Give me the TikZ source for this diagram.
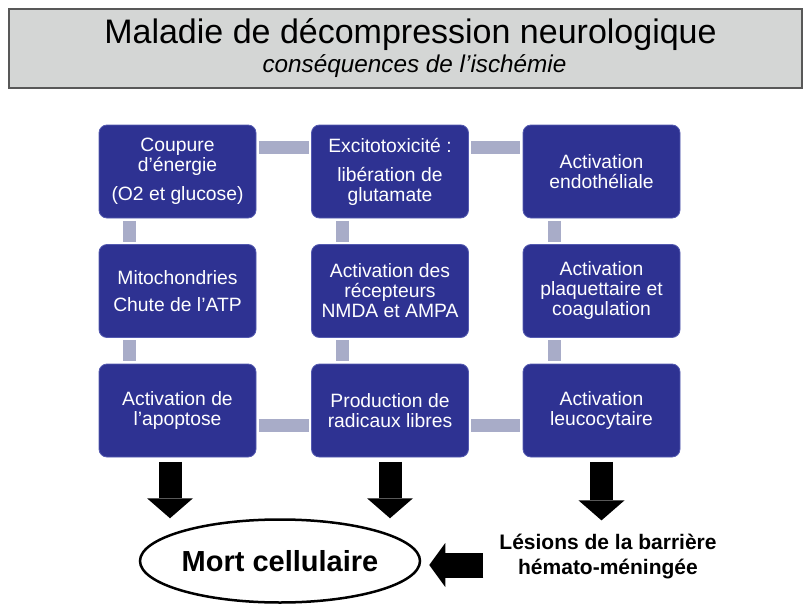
\documentclass[tikz,border=0pt]{standalone}
\usepackage{fontspec}
\setmainfont{Liberation Sans}
\usetikzlibrary{%
  arrows.meta,%
  shapes.geometric,% wg. ellipse
  calc%
}
\definecolor{navy}{RGB}{46,50,146}
\definecolor{navyline}{RGB}{84,90,176}
\definecolor{linkgray}{RGB}{168,172,200}
\definecolor{titlegray}{RGB}{212,214,213}
\definecolor{titleline}{RGB}{88,88,88}

\begin{document}
\begin{tikzpicture}
[x=1pt, y=-1pt,
procbox/.style={rectangle, draw=navyline, line width=0.8pt, fill=navy, rounded corners=8pt,
  text=white, align=center, minimum width=157pt, minimum height=93pt, inner sep=2pt,
  font=\fontsize{19.3}{20}\selectfont},
link/.style={draw=linkgray, line width=13pt, shorten <=2.5pt, shorten >=2.5pt},
bigarrow/.style={draw=black, line width=23pt, shorten <=4.5pt,
  -{Triangle[width=46pt,length=20pt,line width=0pt]}},
sidearrow/.style={draw=black, line width=25pt,
  -{Triangle[width=44pt,length=16pt,line width=0pt]}}
]
\useasboundingbox (0,0) rectangle (804,605);

% title
\node[draw=titleline, line width=1.8pt, fill=titlegray, minimum width=793pt, minimum height=79pt,
  inner sep=0pt, align=center, font=\fontsize{34}{29}\selectfont] (title) at (405.5,48.5)
  {\hspace*{10pt}Maladie de décompression neurologique\\
   \hspace*{18pt}{\fontsize{24.3}{29}\selectfont\itshape conséquences de l'ischémie}};

% row 1
\node[procbox] (coupure) at (177.5,171.5) {Coupure\\d'énergie\\[9pt](O2 et glucose)};
\node[procbox] (excito) at (390,171.5) {Excitotoxicité :\\[9pt]libération de\\glutamate};
\node[procbox] (endo) at (601.5,171.5) {Activation\\endothéliale};

% row 2
\node[procbox] (mito) at (177.5,291) {Mitochondries\\[7pt]Chute de l'ATP};
\node[procbox] (recept) at (390,291) {Activation des\\récepteurs\\NMDA et AMPA};
\node[procbox] (plaq) at (601.5,291) {Activation\\plaquettaire et\\coagulation};

% row 3
\node[procbox] (apoptose) at (177.5,410.5) {Activation de\\l'apoptose};
\node[procbox] (radicaux) at (390,410.5) {Production de\\radicaux libres};
\node[procbox] (leuco) at (601.5,410.5) {Activation\\leucocytaire};

% links
\draw[link] ([yshift=24pt]coupure.east) -- ([yshift=24pt]excito.west);
\draw[link] ([yshift=24pt]excito.east) -- ([yshift=24pt]endo.west);
\draw[link] ([xshift=-48pt]coupure.south) -- ([xshift=-48pt]mito.north);
\draw[link] ([xshift=-48pt]mito.south) -- ([xshift=-48pt]apoptose.north);
\draw[link] ([xshift=-48pt]excito.south) -- ([xshift=-48pt]recept.north);
\draw[link] ([xshift=-48pt]recept.south) -- ([xshift=-48pt]radicaux.north);
\draw[link] ([xshift=-47pt]endo.south) -- ([xshift=-47pt]plaq.north);
\draw[link] ([xshift=-47pt]plaq.south) -- ([xshift=-47pt]leuco.north);
\draw[link] ([yshift=-14.5pt]apoptose.east) -- ([yshift=-14.5pt]radicaux.west);
\draw[link] ([yshift=-14.5pt]radicaux.east) -- ([yshift=-14.5pt]leuco.west);

% outcome
\node[ellipse, draw, line width=2.5pt, minimum width=280pt, minimum height=83pt, inner sep=0pt,
  font=\fontsize{29}{32}\bfseries\selectfont] (mort) at (280,561) {Mort cellulaire};
\node[align=center, inner xsep=16pt, inner ysep=0pt,
  font=\fontsize{21}{25}\bfseries\selectfont] (lesions) at (608,557)
  {Lésions de la barrière\\hémato-méningée};

\draw[bigarrow] ([xshift=-7.5pt]apoptose.south) -- ([xshift=-7.5pt]apoptose.south |- mort.north);
\draw[bigarrow] (radicaux.south) -- (radicaux.south |- mort.north);
\draw[bigarrow, shorten >=14pt] (leuco.south) -- (leuco.south |- lesions.north);
\draw[sidearrow, shorten >=8pt] ([yshift=-8pt]lesions.west) -- ([yshift=-8pt]lesions.west -| mort.east);
\end{tikzpicture}
\end{document}
